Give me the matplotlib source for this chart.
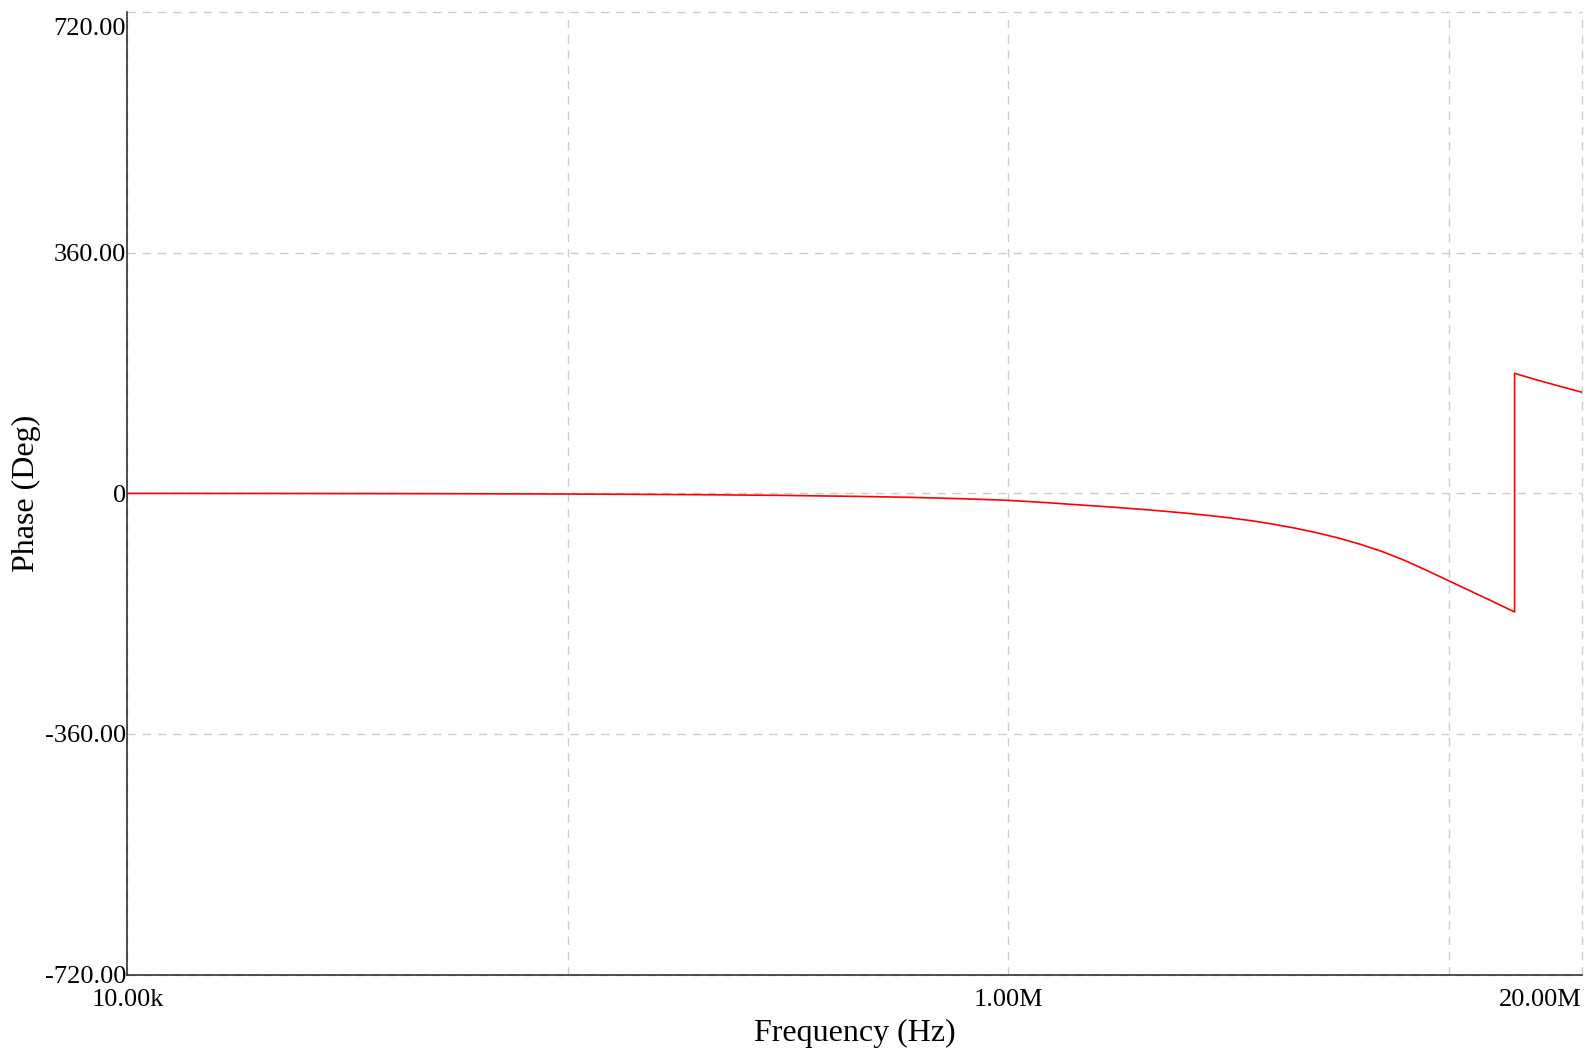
import numpy as np
import matplotlib
matplotlib.use("Agg")
from matplotlib import pyplot as plt
from matplotlib.transforms import ScaledTranslation

# values
freq_hz = [1e4, 2e4, 5e4, 1e5, 2e5, 3e5, 4.6e5, 6e5, 8e5, 1e6,
           1.122e6, 1.259e6, 1.413e6, 1.585e6, 1.778e6, 1.995e6, 2.239e6,
           2.512e6, 2.818e6, 3.162e6, 3.548e6, 3.981e6, 4.467e6, 5.012e6,
           5.623e6, 6.310e6, 7.079e6, 7.943e6, 8.913e6, 1e7, 1.122e7,
           1.259e7, 1.409e7,
           1.409e7, 1.585e7, 1.778e7, 2e7]
phase_deg = [-0.1, -0.2, -0.5, -1, -2, -3, -4.6, -6, -8.2, -10.5,
             -12.4, -14.5, -16.8, -19, -21.3, -23.8, -26.5,
             -29.5, -32.8, -36.5, -40.8, -46, -52, -59,
             -67, -76.5, -87.5, -100.5, -115.5, -131, -146.5,
             -162, -177.5,
             179.5, 169.5, 160.5, 151.4]

x_ticks = [1e4, 1e5, 1e6, 1e7, 2e7]
x_labels = ['10.00k', '', '1.00M', '', '20.00M']
y_ticks = [-720, -360, 0, 360, 720]
y_labels = ['-720.00', '-360.00', '0', '360.00', '720.00']

plt.rcParams['font.family'] = ['Liberation Serif', 'DejaVu Serif']

fig = plt.figure(figsize=(15.87, 10.49), dpi=100)
ax = fig.add_axes([0.0803, 0.0709, 0.9163, 0.9176])

ax.plot(freq_hz, phase_deg, color='red', lw=1.2)

ax.set_xscale('log')
ax.set_xlim(1e4, 2e7)
ax.set_ylim(-720, 720)
ax.set_xticks(x_ticks)
ax.set_xticklabels(x_labels)
ax.xaxis.set_minor_locator(matplotlib.ticker.NullLocator())
ax.set_yticks(y_ticks)
ax.set_yticklabels(y_labels)

ax.grid(True, color='#cccccc', lw=1.0, linestyle=(0, (6, 5)))
ax.set_axisbelow(True)
for g in ax.get_xgridlines() + ax.get_ygridlines():
    g.set_clip_on(False)

for s in ['top', 'right']:
    ax.spines[s].set_visible(False)
for s in ['left', 'bottom']:
    ax.spines[s].set_color('#222222')
    ax.spines[s].set_linewidth(1.1)

ax.tick_params(axis='both', length=0, labelsize=19)
ax.tick_params(axis='y', pad=1)
ax.tick_params(axis='x', pad=10)

# top label sits inside the figure in the reference
top_lbl = ax.get_yticklabels()[-1]
top_lbl.set_va('top')
top_lbl.set_transform(top_lbl.get_transform() + ScaledTranslation(0, -4 / 72, fig.dpi_scale_trans))
ax.get_xticklabels()[-1].set_ha('right')

ax.set_xlabel('Frequency (Hz)', fontsize=23, labelpad=6)
ax.set_ylabel('Phase (Deg)', fontsize=23, labelpad=3)

fig.savefig('out.png', dpi=100)
